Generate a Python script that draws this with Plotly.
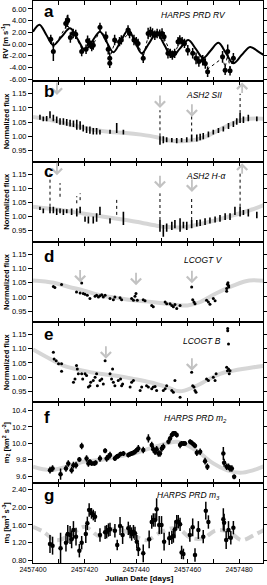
import plotly.graph_objects as go
from plotly.subplots import make_subplots

JD0 = 2457400
FONT = "Liberation Sans, Arial, Helvetica, sans-serif"

# ---------------- panel a : HARPS PRD RV ----------------
rv_day = [6.9, 7.9, 12.7, 13.3, 13.5, 14.5, 15.6, 16.6, 18.9, 20.6, 21.2, 21.9, 22.8, 23.4, 26.0, 28.3,
          29.2, 29.8, 29.8, 31.7, 33.6, 34.3, 36.9, 37.5, 39.2, 40.1, 40.8, 42.8, 44.7, 45.6, 46.4, 47.3,
          48.2, 49.2, 50.1, 50.9, 52.4, 53.3, 54.1, 55.0, 56.3, 57.0, 57.9, 58.8, 60.1, 62.0, 63.3, 64.4,
          65.9, 66.9, 67.8, 73.6, 74.6, 75.6, 76.5, 77.8]
rv_val = [0.8, -1.3, 3.5, 3.9, 4.1, 1.1, 1.8, 1.65, -1.3, -0.9, 0.55, 0.2, -0.45, -0.2, 2.85, 1.25,
          -0.9, -2.45, -3.3, 0.7, 0.4, 0.7, 2.4, 1.8, 0.7, 0.4, 0.1, -2.45, 1.8, 2.05, 1.8, 1.5,
          1.8, 1.7, 1.8, 1.25, -1.6, -1.6, -1.9, -1.6, 0.4, 0.7, 0.4, 0.1, -1.05, -1.6, -2.45, -3.0,
          -2.8, -3.35, -4.75, -2.2, -4.5, -1.3, -4.6, -2.45]
rv_err = [0.8, 1.6, 0.9, 1.0, 0.9, 0.9, 0.8, 0.8, 0.8, 0.8, 0.9, 0.8, 0.8, 0.8, 0.8, 0.9,
          0.9, 1.0, 0.8, 0.9, 0.8, 0.8, 0.8, 0.8, 0.9, 0.8, 0.8, 0.8, 1.0, 0.9, 0.9, 0.8,
          0.8, 0.8, 0.9, 0.8, 0.9, 0.8, 0.8, 0.8, 0.8, 0.8, 0.8, 0.8, 0.9, 0.9, 1.0, 0.9,
          0.9, 0.9, 0.9, 1.0, 0.8, 1.2, 0.8, 0.9]
model_day = [0, 2.5, 5.2, 7.9, 11.1, 14.4, 17.3, 20.2, 23.1, 26.0, 28.6, 31.2, 34.1, 37.0, 39.6, 42.2,
             45.1, 48.0, 51.0, 53.9, 57.1, 60.3, 63.2, 66.1, 69.0, 72.0, 74.9, 77.8, 81.0, 84.3, 87.5, 90.7]
model_rv = [2.1, 3.3, 1.55, -0.2, 1.25, 2.7, 0.85, -1.0, 0.55, 2.1, 0.35, -1.4, 0.5, 2.4, 0.4, -1.6,
            0.15, 1.9, -0.15, -2.2, -0.75, 0.7, -0.85, -2.4, -1.1, 0.2, -1.55, -3.3, -1.9, -0.5, -1.3, -2.2]
fit_day = [6.9, 7.9, 12.7, 13.5, 14.5, 16.6, 18.9, 20.6, 21.9, 23.4, 26.0, 28.3, 29.2, 29.8, 31.7, 34.3,
           37.5, 40.1, 42.8, 44.7, 48.2, 50.9, 53.3, 55.0, 57.0, 58.8, 60.1, 63.3, 66.9, 67.8, 73.6,
           74.6, 75.6, 76.5, 77.8]
fit_rv = [0.6, -0.6, 2.9, 3.3, 2.2, 1.3, -0.8, -0.7, 0.0, -0.1, 2.3, 1.3, -0.3, -2.4, 0.2, 0.6,
          1.9, 0.6, -2.2, 1.3, 1.6, 1.1, -1.4, -1.5, 0.3, 0.1, -0.8, -2.2, -3.0, -4.3, -2.4,
          -4.0, -1.8, -4.1, -2.6]

# ---------------- panel b : ASH2 SII (nightly ranges) ----------------
sii_day = [2.7, 4.0, 5.3, 6.6, 7.9, 9.2, 10.5, 11.8, 13.1, 14.4, 15.7, 17.0, 18.3, 19.5, 20.8, 22.1,
           23.4, 24.7, 26.0, 29.9, 32.5, 35.1, 49.3, 50.6, 51.9, 53.9, 55.8, 57.7, 59.7, 61.6, 63.6,
           64.9, 66.1, 68.1, 70.0, 72.0, 73.9, 75.9, 77.8, 79.1, 80.4, 81.7, 83.6, 86.9]
sii_lo = [1.058, 1.053, 1.053, 1.064, 1.053, 1.047, 1.041, 1.041, 1.037, 1.035, 1.033, 1.023, 1.023, 1.017,
          1.012, 1.009, 1.006, 1.006, 1.006, 1.009, 1.012, 1.006, 0.970, 0.976, 0.979, 0.979, 0.976, 0.979,
          0.979, 0.982, 0.982, 0.986, 0.990, 0.997, 1.006, 1.012, 1.017, 1.026, 1.033, 1.041, 1.047, 1.047,
          1.053, 1.053]
sii_hi = [1.076, 1.070, 1.072, 1.088, 1.076, 1.070, 1.064, 1.064, 1.061, 1.058, 1.056, 1.058, 1.053, 1.041,
          1.035, 1.035, 1.029, 1.029, 1.023, 1.023, 1.047, 1.023, 1.000, 1.000, 0.997, 0.994, 0.994, 0.994,
          0.997, 1.006, 1.006, 1.009, 1.012, 1.017, 1.023, 1.029, 1.035, 1.047, 1.053, 1.064, 1.082, 1.070,
          1.076, 1.070]
sii_flare_day = [49.3, 61.6, 80.4]
sii_flare_lo = [1.000, 1.017, 1.082]
sii_flare_hi = [1.092, 1.075, 1.150]
sii_trend_day = [0, 8, 16, 24, 30, 36, 42, 48, 53, 58, 62, 66, 70, 75, 80, 84, 90]
sii_trend = [1.068, 1.055, 1.038, 1.022, 1.015, 1.012, 1.006, 0.997, 0.985, 0.983, 0.986, 0.995, 1.012,
             1.035, 1.055, 1.062, 1.062]

# ---------------- panel c : ASH2 H-alpha ----------------
ha_day = [2.7, 4.0, 6.6, 7.9, 9.2, 10.5, 11.8, 13.1, 15.0, 17.0, 18.3, 20.2, 21.5, 23.4, 24.7, 26.0,
          29.9, 35.1, 49.3, 50.6, 51.9, 53.9, 55.1, 57.1, 58.4, 59.7, 61.6, 63.6, 64.9, 66.8, 68.7,
          70.7, 72.6, 74.6, 76.5, 78.4, 80.4, 81.7, 83.6, 86.9]
ha_lo = [1.023, 1.012, 1.012, 1.012, 1.006, 1.012, 1.006, 1.012, 1.006, 1.000, 1.012, 0.982, 0.976, 0.976,
         0.982, 1.006, 0.976, 0.970, 0.947, 0.929, 0.947, 0.953, 0.959, 0.947, 0.959, 0.953, 0.959, 0.965,
         0.967, 0.970, 0.976, 0.979, 0.982, 0.988, 0.988, 1.006, 1.000, 1.006, 1.000, 0.994]
ha_hi = [1.035, 1.029, 1.035, 1.035, 1.029, 1.029, 1.026, 1.026, 1.029, 1.029, 1.035, 1.000, 1.000, 1.000,
         1.012, 1.035, 0.994, 1.017, 0.988, 0.970, 0.976, 0.982, 0.988, 0.994, 0.982, 0.982, 0.988, 0.988,
         0.990, 0.994, 0.997, 1.000, 1.006, 1.012, 1.012, 1.035, 1.035, 1.023, 1.026, 1.017]
ha_flare_day = [6.6, 10.5, 17.0, 18.3, 32.5, 49.3, 61.6, 80.4]
ha_flare_lo = [1.035, 1.070, 1.047, 1.058, 1.006, 0.988, 0.988, 1.035]
ha_flare_hi = [1.152, 1.118, 1.072, 1.082, 1.064, 1.082, 1.070, 1.152]
ha_trend_day = [0, 10, 20, 30, 40, 48, 52, 58, 62, 70, 78, 85, 90]
ha_trend = [1.035, 1.024, 1.010, 0.996, 0.982, 0.968, 0.963, 0.962, 0.968, 0.985, 1.005, 1.025, 1.042]

# ---------------- panel d : LCOGT V ----------------
v_day = [7.9, 8.5, 11.1, 16.9, 18.3, 18.9, 19.5, 20.2, 21.1, 22.1, 24.1, 24.7, 25.4, 26.0, 26.7, 27.3,
         28.0, 29.9, 31.2, 31.8, 33.8, 34.4, 38.3, 39.0, 39.6, 40.0, 40.5, 42.8, 43.5, 46.1, 46.7, 51.3,
         51.9, 53.2, 53.9, 54.5, 55.1, 55.8, 57.1, 61.6, 62.0, 62.5, 62.9, 67.4, 68.1, 68.7, 70.0, 70.7,
         75.2, 75.2, 75.5, 75.7, 75.9, 76.0]
v_flux = [1.037, 1.033, 1.044, 1.017, 1.014, 1.049, 1.012, 1.009, 1.006, 0.994, 1.002, 1.006, 1.000, 1.004,
          1.008, 1.000, 1.006, 0.994, 0.990, 1.000, 0.997, 0.990, 0.994, 0.988, 1.002, 1.012, 0.988, 0.990,
          0.986, 0.970, 0.965, 0.982, 0.976, 0.976, 0.970, 0.965, 0.973, 0.959, 0.970, 1.035, 0.990, 0.982,
          0.976, 0.988, 0.982, 0.974, 0.994, 0.986, 1.020, 1.030, 1.045, 1.050, 1.040, 1.035]
v_trend_day = [0, 8, 14, 19.5, 26, 33, 39, 46, 52, 56, 60, 65, 71, 78, 84, 90]
v_trend = [1.058, 1.050, 1.035, 1.023, 1.006, 0.996, 0.988, 0.982, 0.976, 0.971, 0.970, 0.982, 1.012, 1.041,
           1.058, 1.056]

# ---------------- panel e : LCOGT B ----------------
b_day = [7.9, 8.2, 9.0, 9.9, 11.1, 11.1, 15.7, 16.3, 16.9, 17.2, 17.6, 18.9, 19.3, 20.2, 20.8, 21.5,
         22.1, 22.4, 23.4, 24.1, 24.7, 25.0, 26.0, 26.7, 27.3, 28.0, 29.9, 30.5, 30.9, 31.2, 31.8, 33.1,
         34.0, 34.4, 34.8, 37.7, 38.3, 39.0, 41.6, 42.2, 44.1, 44.8, 46.1, 46.7, 47.4, 48.0, 50.6, 51.3,
         51.9, 53.9, 54.5, 55.1, 57.1, 61.6, 62.0, 62.5, 62.9, 63.3, 67.4, 68.1, 70.0, 70.7, 71.1, 75.2,
         75.5, 75.9, 76.5, 76.2, 75.6, 75.6, 75.9]
b_flux = [1.088, 1.064, 1.058, 1.047, 1.047, 1.021, 0.982, 0.994, 1.041, 1.029, 1.012, 1.012, 0.994, 1.012,
          1.006, 0.965, 0.970, 0.982, 0.988, 1.000, 1.012, 0.970, 0.988, 0.994, 0.976, 1.058, 1.012, 0.994,
          1.029, 0.982, 0.970, 0.988, 0.994, 0.970, 0.976, 0.965, 0.982, 0.988, 0.953, 0.965, 0.970, 0.965,
          0.959, 0.965, 0.967, 0.953, 0.953, 0.959, 0.970, 0.953, 0.947, 0.988, 0.929, 1.017, 0.970, 0.965,
          0.953, 0.947, 0.994, 0.988, 1.000, 0.988, 1.012, 1.035, 1.023, 1.029, 1.023, 1.012, 1.164, 1.172,
          1.117]
b_trend_day = [0, 6, 11.8, 19.5, 26, 33, 39, 45.4, 52, 57, 62.3, 67.4, 72.6, 77.8, 85.6, 90.7]
b_trend = [1.098, 1.068, 1.041, 1.023, 1.012, 1.004, 0.994, 0.982, 0.965, 0.950, 0.965, 0.988, 1.012, 1.023,
           1.035, 1.041]

# ---------------- panel f : HARPS PRD m2 ----------------
m2_day = [6.6, 7.6, 10.7, 12.8, 13.7, 15.0, 15.7, 16.7, 18.0, 18.9, 20.8, 21.5, 22.1, 22.8, 23.8, 24.3,
          26.0, 28.0, 28.6, 29.3, 29.9, 31.8, 32.5, 33.1, 34.0, 35.1, 37.0, 37.7, 38.3, 39.0, 39.6, 40.3,
          40.9, 42.8, 44.8, 46.1, 46.7, 47.4, 48.0, 48.7, 49.3, 50.0, 50.6, 52.6, 53.2, 53.9, 54.5, 55.1,
          55.8, 57.1, 57.7, 58.4, 59.0, 61.0, 61.6, 62.3, 62.9, 63.6, 64.9, 66.8, 67.7, 73.9, 74.2, 75.2,
          75.9, 76.5, 77.2, 78.1]
m2_val = [9.672, 9.692, 9.623, 9.692, 9.754, 9.672, 9.733, 9.733, 9.803, 9.966, 9.815, 9.754, 9.774, 9.754,
          9.754, 9.762, 9.815, 9.909, 9.815, 9.836, 9.856, 9.815, 9.836, 9.844, 9.868, 9.876, 9.856, 9.868,
          9.876, 9.885, 9.897, 9.917, 9.938, 9.917, 10.060, 9.979, 9.926, 9.897, 9.926, 9.876, 9.876, 9.938,
          9.958, 10.020, 10.060, 10.101, 10.122, 10.122, 10.101, 9.979, 9.999, 9.999, 9.999, 10.020, 10.007,
          9.987, 9.971, 9.885, 9.897, 9.782, 9.713, 9.876, 9.762, 9.713, 9.713, 9.692, 9.692, 9.590]
m2_err = [0.04, 0.04, 0.07, 0.04, 0.04, 0.04, 0.04, 0.04, 0.03, 0.04, 0.04, 0.04, 0.03, 0.03, 0.03, 0.03,
          0.04, 0.03, 0.04, 0.04, 0.04, 0.03, 0.03, 0.03, 0.03, 0.03, 0.03, 0.03, 0.03, 0.03, 0.03, 0.03,
          0.04, 0.04, 0.05, 0.04, 0.04, 0.04, 0.04, 0.04, 0.04, 0.04, 0.04, 0.03, 0.03, 0.03, 0.03, 0.03,
          0.03, 0.04, 0.03, 0.03, 0.03, 0.03, 0.03, 0.03, 0.03, 0.04, 0.04, 0.04, 0.04, 0.08, 0.05, 0.04,
          0.04, 0.04, 0.04, 0.03]
m2_trend_day = [0, 6.6, 13.1, 19.5, 26, 32.5, 39, 45.4, 51.9, 55.8, 59.7, 64.9, 70, 75.2, 80.4, 85.6, 90.7]
m2_trend = [9.713, 9.672, 9.713, 9.774, 9.795, 9.836, 9.876, 9.938, 9.999, 10.02, 9.979, 9.876, 9.754,
            9.672, 9.64, 9.672, 9.733]

# ---------------- panel g : HARPS PRD m3 ----------------
m3_day = [6.6, 7.6, 10.7, 12.8, 13.5, 14.4, 15.0, 15.7, 16.7, 18.0, 18.9, 20.5, 21.1, 21.8, 22.7, 23.4,
          24.1, 26.0, 28.0, 28.6, 29.3, 29.9, 31.8, 32.7, 33.8, 34.8, 37.0, 37.7, 38.3, 39.0, 39.6, 40.3,
          40.9, 42.8, 45.1, 46.1, 46.7, 47.4, 48.0, 49.0, 49.9, 50.9, 52.9, 53.9, 54.5, 55.1, 55.8, 56.4,
          57.1, 57.7, 58.4, 60.9, 62.0, 62.9, 64.2, 66.1, 67.1, 68.1, 73.9, 74.2, 75.0, 75.9, 76.8, 77.8]
m3_val = [1.173, 1.136, 1.076, 1.203, 1.398, 1.375, 1.278, 1.487, 1.338, 1.024, 1.203, 1.398, 1.637, 1.936,
          1.861, 1.824, 1.787, 1.375, 1.435, 1.450, 1.487, 1.502, 1.472, 1.151, 1.577, 1.375, 1.525, 1.450,
          1.398, 1.450, 1.413, 1.226, 1.054, 0.964, 1.278, 1.667, 1.712, 1.712, 1.951, 1.600, 1.600, 1.226,
          1.300, 1.323, 1.353, 1.502, 1.674, 1.674, 1.615, 0.986, 0.949, 1.375, 1.547, 0.926, 1.487, 1.338,
          1.921, 1.667, 1.727, 1.652, 1.263, 1.487, 1.315, 1.540]
m3_err = [0.2, 0.2, 0.35, 0.2, 0.2, 0.2, 0.2, 0.2, 0.2, 0.15, 0.15, 0.2, 0.15, 0.15, 0.12, 0.12,
          0.12, 0.15, 0.15, 0.15, 0.15, 0.15, 0.15, 0.12, 0.2, 0.2, 0.15, 0.15, 0.15, 0.15, 0.15, 0.15,
          0.15, 0.2, 0.2, 0.15, 0.15, 0.15, 0.25, 0.2, 0.2, 0.2, 0.15, 0.15, 0.15, 0.2, 0.15, 0.15,
          0.15, 0.15, 0.12, 0.15, 0.2, 0.15, 0.2, 0.15, 0.2, 0.15, 0.25, 0.2, 0.2, 0.2, 0.15, 0.15]
m3_trend_day = [0, 4, 9, 15, 20, 26, 32, 38, 44, 50, 56, 61, 66, 71, 76, 81, 86, 90]
m3_trend = [1.56, 1.45, 1.26, 1.40, 1.56, 1.35, 1.52, 1.40, 1.26, 1.45, 1.53, 1.32, 1.30, 1.48, 1.45,
            1.26, 1.38, 1.50]

# ---------------- arrows (grey) ----------------
arrow_row = [2, 2, 2, 2, 3, 3, 3, 3, 4, 4, 4, 5, 5]
arrow_day = [9.3, 49.3, 61.7, 81.2, 9.3, 49.3, 61.7, 81.2, 18.3, 40.0, 61.7, 28.3, 61.7]
arrow_tip = [1.146, 1.100, 1.069, 1.190, 1.146, 1.100, 1.087, 1.188, 1.051, 1.041, 1.048, 1.065, 1.023]
arrow_up = [False, False, False, True, False, False, False, True, False, False, False, False, False]

# ---------------- axis ticks / labels ----------------
x_tickvals = [2457400, 2457420, 2457440, 2457460, 2457480]
x_ticktext = ["2457400", "2457420", "2457440", "2457460", "2457480"]
x_minorvals = [2457410, 2457430, 2457450, 2457470]
rv_ticks = [-6, -4, -2, 0, 2, 4, 6]
rv_ticktext = ["-6.00", "-4.00", "-2.00", "0.00", "2.00", "4.00", "6.00"]
flux_ticks = [0.95, 1.00, 1.05, 1.10, 1.15]
flux_ticktext = ["0.95", "1.00", "1.05", "1.10", "1.15"]
m2_ticks = [9.6, 9.8, 10.0, 10.2, 10.4]
m2_ticktext = ["9.6", "9.8", "10.0", "10.2", "10.4"]
m3_ticks = [0.8, 1.2, 1.6, 2.0, 2.4]
m3_ticktext = ["0.80", "1.20", "1.60", "2.00", "2.40"]

panel_letters = ["a", "b", "c", "d", "e", "f", "g"]
panel_titles = ["HARPS PRD RV", "ASH2 SII", "ASH2 H-α", "LCOGT V", "LCOGT B",
                "HARPS PRD m<sub>2</sub>", "HARPS PRD m<sub>3</sub>"]
y_titles = ["RV [m s<sup>-1</sup>]", "Normalized flux", "Normalized flux", "Normalized flux",
            "Normalized flux", "m<sub>2</sub> [km<sup>2</sup> s<sup>-2</sup>]",
            "m<sub>3</sub> [km<sup>3</sup> s<sup>-3</sup>]"]
x_title = "Julian Date [days]"

# ---------------- figure ----------------
W, H = 267, 585
ML, MR, MT, MB = 33, 4, 1, 22


def pxx(x):
    return (x - ML) / (W - ML - MR)


def pxy(y):
    return (H - MB - y) / (H - MT - MB)


def jd(days):
    return [JD0 + d for d in days]


def segments(days, lo, hi):
    xs, ys = [], []
    for d, a, b in zip(days, lo, hi):
        xs += [JD0 + d, JD0 + d, None]
        ys += [a, b, None]
    return xs, ys


GREY = "#d6d6d6"
ARROW = "#c2c2c2"

fig = make_subplots(rows=7, cols=1, shared_xaxes=True, vertical_spacing=0)

# a
fig.add_trace(go.Scatter(x=jd(model_day), y=model_rv, mode="lines",
                         line=dict(color="black", width=2, shape="spline")), row=1, col=1)
fig.add_trace(go.Scatter(x=jd(fit_day), y=fit_rv, mode="lines",
                         line=dict(color="black", width=1, dash="dot")), row=1, col=1)
fig.add_trace(go.Scatter(x=jd(rv_day), y=rv_val, mode="markers",
                         marker=dict(color="black", size=5),
                         error_y=dict(type="data", array=rv_err, color="black", thickness=1.5, width=0)),
              row=1, col=1)

# b, c
for row, (tday, tval, dd, lo, hi, fd, flo, fhi) in zip(
        [2, 3],
        [(sii_trend_day, sii_trend, sii_day, sii_lo, sii_hi, sii_flare_day, sii_flare_lo, sii_flare_hi),
         (ha_trend_day, ha_trend, ha_day, ha_lo, ha_hi, ha_flare_day, ha_flare_lo, ha_flare_hi)]):
    fig.add_trace(go.Scatter(x=jd(tday), y=tval, mode="lines",
                             line=dict(color=GREY, width=4, shape="spline")), row=row, col=1)
    sx, sy = segments(dd, lo, hi)
    fig.add_trace(go.Scatter(x=sx, y=sy, mode="lines", line=dict(color="black", width=1.6)),
                  row=row, col=1)
    fx, fy = segments(fd, flo, fhi)
    fig.add_trace(go.Scatter(x=fx, y=fy, mode="lines", line=dict(color="black", width=1, dash="dot")),
                  row=row, col=1)

# d, e
for row, (tday, tval, dd, vv) in zip(
        [4, 5], [(v_trend_day, v_trend, v_day, v_flux), (b_trend_day, b_trend, b_day, b_flux)]):
    fig.add_trace(go.Scatter(x=jd(tday), y=tval, mode="lines",
                             line=dict(color=GREY, width=4, shape="spline")), row=row, col=1)
    fig.add_trace(go.Scatter(x=jd(dd), y=vv, mode="markers", marker=dict(color="black", size=3)),
                  row=row, col=1)

# f
fig.add_trace(go.Scatter(x=jd(m2_trend_day), y=m2_trend, mode="lines",
                         line=dict(color=GREY, width=4, shape="spline")), row=6, col=1)
fig.add_trace(go.Scatter(x=jd(m2_day), y=m2_val, mode="markers",
                         marker=dict(color="black", size=4.5),
                         error_y=dict(type="data", array=m2_err, color="black", thickness=1.5, width=0)),
              row=6, col=1)

# g
fig.add_trace(go.Scatter(x=jd(m3_trend_day), y=m3_trend, mode="lines",
                         line=dict(color="#d0d0d0", width=4, shape="spline", dash="9px,5px")), row=7, col=1)
fig.add_trace(go.Scatter(x=jd(m3_day), y=m3_val, mode="markers",
                         marker=dict(color="black", size=4.5),
                         error_y=dict(type="data", array=m3_err, color="black", thickness=1.5, width=0)),
              row=7, col=1)

# axes
yspecs = [
    dict(range=[-6.39, 7.37], tickvals=rv_ticks, ticktext=rv_ticktext),
    dict(range=[0.911, 1.194], tickvals=flux_ticks, ticktext=flux_ticktext),
    dict(range=[0.911, 1.194], tickvals=flux_ticks, ticktext=flux_ticktext),
    dict(range=[0.911, 1.194], tickvals=flux_ticks, ticktext=flux_ticktext),
    dict(range=[0.911, 1.194], tickvals=flux_ticks, ticktext=flux_ticktext),
    dict(range=[9.518, 10.50], tickvals=m2_ticks, ticktext=m2_ticktext),
    dict(range=[0.748, 2.548], tickvals=m3_ticks, ticktext=m3_ticktext),
]
for i, spec in enumerate(yspecs, start=1):
    fig.update_yaxes(row=i, col=1, showline=True, linecolor="black", linewidth=1, mirror="ticks",
                     ticks="outside", ticklen=4, tickwidth=1, tickcolor="black", showgrid=False,
                     zeroline=False, automargin=False,
                     title=dict(text="<b>" + y_titles[i - 1] + "</b>", standoff=1,
                                font=dict(size=7.5, color="black", family=FONT)),
                     tickfont=dict(size=7.5, color="black", family=FONT), **spec)
    fig.update_xaxes(row=i, col=1, range=[JD0, JD0 + 89.3], tickvals=x_tickvals, ticktext=x_ticktext,
                     showline=True, linecolor="black", linewidth=1, mirror="ticks", ticks="inside",
                     ticklen=4, tickwidth=1, tickcolor="black", showgrid=False, zeroline=False,
                     minor=dict(tickvals=x_minorvals, ticks="inside", ticklen=4, tickwidth=1,
                                tickcolor="black", showgrid=False),
                     automargin=False, tickfont=dict(size=7, color="black", family=FONT))

fig.update_layout(template="none", width=W, height=H, margin=dict(l=ML, r=MR, t=MT, b=MB),
                  paper_bgcolor="white", plot_bgcolor="white", showlegend=False,
                  font=dict(family=FONT, color="black"))

ann = []
# arrows
for r, d, tip, up in zip(arrow_row, arrow_day, arrow_tip, arrow_up):
    sfx = "" if r == 1 else str(r)
    ann.append(dict(x=JD0 + d, y=tip, xref="x" + sfx, yref="y" + sfx, text="", showarrow=True,
                    arrowhead=4, arrowsize=1.1, arrowwidth=1.8, arrowcolor=ARROW,
                    ax=0, ay=(12 if up else -14)))

panel_top = [MT + i * (H - MT - MB) / 7 for i in range(7)]
letter_base = [16, 16, 16, 21, 18, 21, 19]
title_base = [17, 17, 17, 21, 22, 19, 16]
title_cx = [193, 204, 206, 203, 202, 195, 188]
for i in range(7):
    ann.append(dict(x=pxx(42), y=pxy(panel_top[i] + letter_base[i] - 6), xref="paper", yref="paper",
                    text="<b>" + panel_letters[i] + "</b>", showarrow=False, xanchor="left",
                    yanchor="middle", font=dict(size=17, color="black", family=FONT)))
    ann.append(dict(x=pxx(title_cx[i]), y=pxy(panel_top[i] + title_base[i] - 3), xref="paper",
                    yref="paper", text="<i>" + panel_titles[i] + "</i>", showarrow=False,
                    xanchor="center", yanchor="middle", font=dict(size=8.5, color="black", family=FONT)))

ann.append(dict(x=pxx(139), y=pxy(578), xref="paper", yref="paper", text="<b>" + x_title + "</b>",
                showarrow=False, xanchor="center", yanchor="middle",
                font=dict(size=8, color="black", family=FONT)))
fig.update_layout(annotations=ann)

fig.write_html("out.html", config={"displayModeBar": False},
               post_script="document.body.style.margin='0';document.body.style.overflow='hidden';")
